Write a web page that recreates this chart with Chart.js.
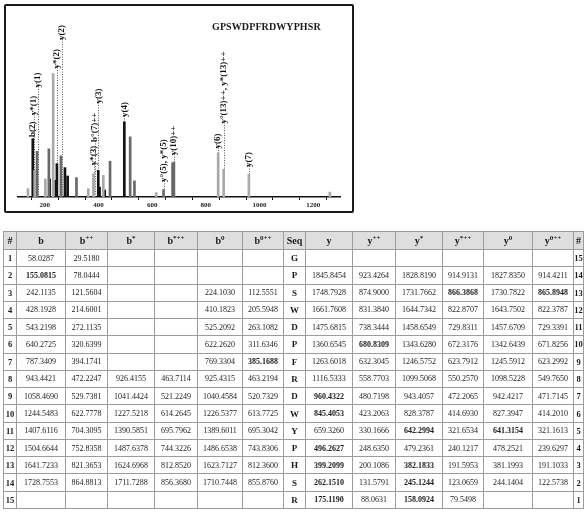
<!DOCTYPE html>
<html>
<head>
    <title>GPSWDPFRDWYPHSR fragment spectrum</title>
    <script src="https://cdn.jsdelivr.net/npm/chart.js"></script>
    <style>
        body { margin: 0; background: #fff; font-family: "Liberation Serif", "DejaVu Serif", serif; color: #1a1a1a; }
        #specBox { position: absolute; left: 4px; top: 4px; width: 346px; height: 205px; border: 2px solid #1a1a1a; border-radius: 2px; }
        #specBox canvas { display: block; }
        #peptide { position: absolute; left: 212px; top: 22px; font-size: 10px; line-height: 10px; font-weight: bold; letter-spacing: 0.1px; will-change: transform; }
        #ionTable { position: absolute; left: 3px; top: 231px; width: 580px; border-collapse: collapse; table-layout: fixed; font-size: 8px; will-change: transform; color: #1a1a1a; }
        #ionTable th, #ionTable td { border: 1px solid #9c9c9c; padding: 0; text-align: center; white-space: nowrap; overflow: hidden; }
        #ionTable th { background: #dedede; height: 17px; font-size: 10px; font-weight: bold; }
        #ionTable th sup { font-size: 7px; }
        #ionTable td { height: 16.27px; }
        #ionTable td.num { font-weight: bold; font-size: 8.5px; }
        #ionTable td.seq { font-weight: bold; font-size: 9px; }
        #ionTable td.hit { font-weight: bold; }
    </style>
</head>
<body>
    <div id="specBox"><canvas id="spec" width="346" height="205"></canvas></div>
    <div id="peptide">GPSWDPFRDWYPHSR</div>
    <table id="ionTable"></table>

    <script>
        // spectrum peaks (m/z, relative intensity %), split by shade as printed
        const blackMz  = [155.1, 218, 241, 245, 275, 285, 399.2, 404, 423, 496.3];
        const blackInt = [47.3, 14.6, 13.5, 27, 23.8, 17, 21.6, 8, 5.7, 60.8];
        const darkMz   = [171, 215, 260, 318, 443, 518, 534, 642.3, 676, 681];
        const darkInt  = [37, 39, 33.3, 15.7, 29, 48.7, 13, 6, 27.6, 28.4];
        const lightMz  = [137, 162, 202, 231, 362, 381, 418, 615, 846, 866.4, 960.4, 1262];
        const lightInt = [6.7, 21.6, 14.6, 100, 6.7, 18.9, 17.6, 3.6, 35.7, 22.5, 18.4, 4];

        // annotated ions: m/z, label, height (intensity units) where the label starts
        const labelMz   = [155.08, 158.09, 175.12, 245.12, 262.15, 382.18, 385.17, 399.21, 496.26, 642.30, 680.83, 845.41, 866.39, 960.43];
        const labelText = ['b(2)', 'y*(1)', 'y(1)', 'y*(2)', 'y(2)', 'y*(3)', 'b°(7)++', 'y(3)', 'y(4)',
                           'y°(5), y*(5)', 'y(10)++', 'y(6)', 'y°(13)++, y*(13)++', 'y(7)'];
        const labelLift = [48.7, 66.3, 88.7, 104.1, 127.1, 25.7, 44.6, 75.7, 64.9, 12.2, 33.8, 39.3, 59.5, 24.3];

        // fragment table
        const seq    = ['G','P','S','W','D','P','F','R','D','W','Y','P','H','S','R'];
        const bIon   = ['58.0287','155.0815','242.1135','428.1928','543.2198','640.2725','787.3409','943.4421','1058.4690','1244.5483','1407.6116','1504.6644','1641.7233','1728.7553',null];
        const bIon2  = ['29.5180','78.0444','121.5604','214.6001','272.1135','320.6399','394.1741','472.2247','529.7381','622.7778','704.3095','752.8358','821.3653','864.8813',null];
        const bStar  = [null,null,null,null,null,null,null,'926.4155','1041.4424','1227.5218','1390.5851','1487.6378','1624.6968','1711.7288',null];
        const bStar2 = [null,null,null,null,null,null,null,'463.7114','521.2249','614.2645','695.7962','744.3226','812.8520','856.3680',null];
        const bZero  = [null,null,'224.1030','410.1823','525.2092','622.2620','769.3304','925.4315','1040.4584','1226.5377','1389.6011','1486.6538','1623.7127','1710.7448',null];
        const bZero2 = [null,null,'112.5551','205.5948','263.1082','311.6346','385.1688','463.2194','520.7329','613.7725','695.3042','743.8306','812.3600','855.8760',null];
        const yIon   = [null,'1845.8454','1748.7928','1661.7608','1475.6815','1360.6545','1263.6018','1116.5333','960.4322','845.4053','659.3260','496.2627','399.2099','262.1510','175.1190'];
        const yIon2  = [null,'923.4264','874.9000','831.3840','738.3444','680.8309','632.3045','558.7703','480.7198','423.2063','330.1666','248.6350','200.1086','131.5791','88.0631'];
        const yStar  = [null,'1828.8190','1731.7662','1644.7342','1458.6549','1343.6280','1246.5752','1099.5068','943.4057','828.3787','642.2994','479.2361','382.1833','245.1244','158.0924'];
        const yStar2 = [null,'914.9131','866.3868','822.8707','729.8311','672.3176','623.7912','550.2570','472.2065','414.6930','321.6534','240.1217','191.5953','123.0659','79.5498'];
        const yZero  = [null,'1827.8350','1730.7822','1643.7502','1457.6709','1342.6439','1245.5912','1098.5228','942.4217','827.3947','641.3154','478.2521','381.1993','244.1404',null];
        const yZero2 = [null,'914.4211','865.8948','822.3787','729.3391','671.8256','623.2992','549.7650','471.7145','414.2010','321.1613','239.6297','191.1033','122.5738',null];

        // ions printed in bold (column key : row number)
        const boldCells = new Set(['b:2','b02:7','ys2:3','y02:3','y2:6','y:9','y:10','ys:11','y0:11',
                                   'y:12','y:13','ys:13','y:14','ys:14','y:15','ys:15']);

        // ---- table ----
        const colWidths = [13, 49, 42, 47, 43, 45, 41, 22, 47, 43, 47, 41, 49, 41, 10];
        const heads = ['#', 'b', 'b<sup>++</sup>', 'b<sup>*</sup>', 'b<sup>*++</sup>', 'b<sup>0</sup>', 'b<sup>0++</sup>', 'Seq',
                       'y', 'y<sup>++</sup>', 'y<sup>*</sup>', 'y<sup>*++</sup>', 'y<sup>0</sup>', 'y<sup>0++</sup>', '#'];
        const cols = [['b', bIon], ['b2', bIon2], ['bs', bStar], ['bs2', bStar2], ['b0', bZero], ['b02', bZero2]];
        const ycols = [['y', yIon], ['y2', yIon2], ['ys', yStar], ['ys2', yStar2], ['y0', yZero], ['y02', yZero2]];

        let html = '<colgroup>' + colWidths.map(w => `<col style="width:${w}px">`).join('') + '</colgroup>';
        html += '<tr>' + heads.map(h => `<th>${h}</th>`).join('') + '</tr>';
        seq.forEach((aa, i) => {
            const row = i + 1;
            const cell = ([key, arr]) => {
                const v = arr[i];
                const cls = boldCells.has(key + ':' + row) ? ' class="hit"' : '';
                return `<td${cls}>${v === null ? '' : v}</td>`;
            };
            html += '<tr>';
            html += `<td class="num">${row}</td>`;
            html += cols.map(cell).join('');
            html += `<td class="seq">${aa}</td>`;
            html += ycols.map(cell).join('');
            html += `<td class="num">${seq.length - i}</td>`;
            html += '</tr>';
        });
        document.getElementById('ionTable').innerHTML = html;

        // ---- spectrum ----
        const toPoints = (mz, inten) => mz.map((m, i) => ({ x: m, y: inten[i] }));

        const ionLabels = {
            id: 'ionLabels',
            beforeDatasetsDraw(chart) {
                const { ctx, scales: { x, y } } = chart;
                ctx.save();
                ctx.strokeStyle = '#555';
                ctx.lineWidth = 1;
                ctx.setLineDash([1, 1.5]);
                labelMz.forEach((m, i) => {
                    const px = Math.round(x.getPixelForValue(m)) + 0.5;
                    ctx.beginPath();
                    ctx.moveTo(px, y.getPixelForValue(labelLift[i]) - 1);
                    ctx.lineTo(px, y.getPixelForValue(0));
                    ctx.stroke();
                });
                ctx.restore();
            },
            afterDatasetsDraw(chart) {
                const { ctx, scales: { x, y } } = chart;
                ctx.save();
                ctx.fillStyle = '#111';
                ctx.font = 'bold 9px "Liberation Serif"';
                ctx.textAlign = 'left';
                ctx.textBaseline = 'middle';
                labelMz.forEach((m, i) => {
                    ctx.save();
                    ctx.translate(x.getPixelForValue(m), y.getPixelForValue(labelLift[i]));
                    ctx.rotate(-Math.PI / 2);
                    ctx.fillText(labelText[i], 0, 0);
                    ctx.restore();
                });
                ctx.restore();
            }
        };

        const barStyle = { barThickness: 2, grouped: false, borderWidth: 0 };

        new Chart(document.getElementById('spec').getContext('2d'), {
            type: 'bar',
            data: {
                datasets: [
                    { data: toPoints(lightMz, lightInt), backgroundColor: '#a9a9a9', ...barStyle },
                    { data: toPoints(darkMz, darkInt), backgroundColor: '#686868', ...barStyle },
                    { data: toPoints(blackMz, blackInt), backgroundColor: '#141414', ...barStyle }
                ]
            },
            options: {
                responsive: false,
                animation: false,
                layout: { padding: { left: 12, right: 12, top: 12, bottom: 0 } },
                plugins: {
                    legend: { display: false },
                    tooltip: { enabled: false }
                },
                scales: {
                    x: {
                        type: 'linear',
                        min: 100,
                        max: 1300,
                        offset: false,
                        ticks: {
                            stepSize: 100,
                            autoSkip: false,
                            maxRotation: 0,
                            padding: 1,
                            color: '#222',
                            font: { family: 'Liberation Serif', size: 7, weight: 'bold' },
                            callback: v => (v % 200 === 0 ? v : '')
                        },
                        grid: { drawOnChartArea: false, tickLength: 3, color: '#111', lineWidth: 1 },
                        border: { color: '#111', width: 1.5 },
                        afterFit: s => { s.height = 14; }
                    },
                    y: { display: false, min: 0, max: 145 }
                }
            },
            plugins: [ionLabels]
        });
    </script>
</body>
</html>
